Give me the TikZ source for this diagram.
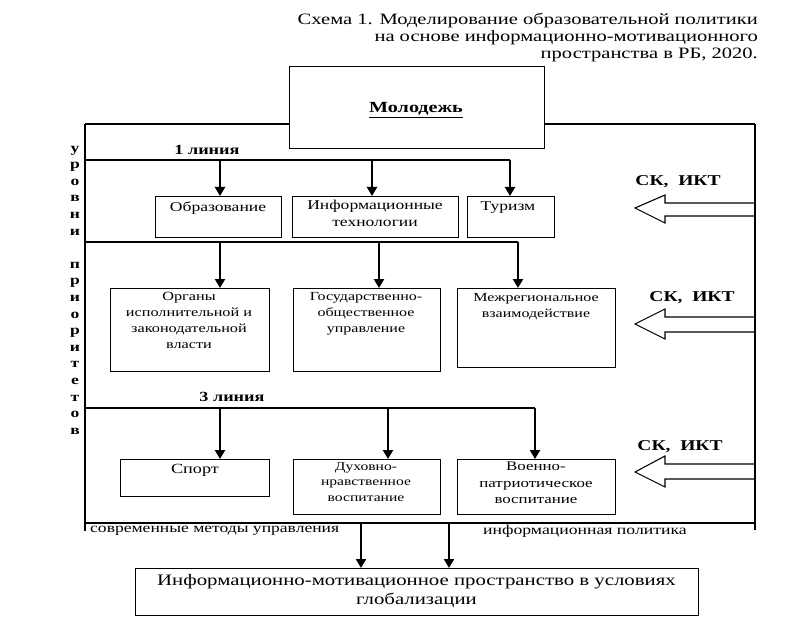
\documentclass[tikz,border=0pt]{standalone}
\usepackage{fontspec}
\setmainfont[FakeStretch=1.3]{Liberation Serif}
\usetikzlibrary{arrows.meta,calc}
\begin{document}
\begin{tikzpicture}[x=1pt,y=-1pt,
  frame/.style={line width=1.3pt},
  box/.style={draw, line width=1.3pt, inner sep=0pt, anchor=north west},
  arr/.style={line width=2.4pt, -{Triangle[length=9pt,width=10pt]}},
  hollow/.style={line width=1.1pt, line join=miter},
  txt/.style={inner sep=0pt, align=center},
  bold/.style={inner sep=0pt, align=center, font=\bfseries\fontsize{15}{16}\selectfont}]
\useasboundingbox (0,0) rectangle (805,644);

% title
\node[txt, anchor=north east, align=right, font=\fontsize{15.8}{16.8}\selectfont] (title) at (758,13)
  {Схема 1. Моделирование образовательной политики\\на основе информационно-мотивационного\\пространства в РБ, 2020.};

% top box
\node[box, minimum width=255, minimum height=82] (mol) at (289,66) {};
\node[txt, font=\bfseries\fontsize{15.5}{17}\selectfont] (molt) at (416,110) {\underline{Молодежь}};

% frame
\coordinate (fTL) at (85,124);
\coordinate (fTR) at (755,124);
\coordinate (fBL) at (85,531);
\coordinate (fBR) at (755,530);
\draw[frame] (fTL) -- (fTL -| mol.west);
\draw[frame] (fTR -| mol.east) -- (fTR);
\draw[frame] (fTL) -- (fBL);
\draw[frame] (fTR) -- (fBR);
\coordinate (bl) at (85,523);
\coordinate (br) at (755,523);
\draw[frame] (bl) -- (br);

% level lines
\coordinate (l1s) at (85,160); \coordinate (l1e) at (510,160);
\coordinate (l2s) at (85,242); \coordinate (l2e) at (518,242);
\coordinate (l3s) at (85,408); \coordinate (l3e) at (535,408);
\draw[frame] (l1s) -- (l1e);
\draw[frame] (l2s) -- (l2e);
\draw[frame] (l3s) -- (l3e);
\node[bold, font=\bfseries\fontsize{14}{16}\selectfont] (lin1) at (207,150) {1 линия};
\node[bold, font=\bfseries\fontsize{14}{16}\selectfont] (lin3) at (232,397) {3 линия};

% side label
\node[txt, font=\bfseries\fontsize{13.5}{16.6}\selectfont] (side) at (75,290)
  {у\\р\\о\\в\\н\\и\\\strut\\п\\р\\и\\о\\р\\и\\т\\е\\т\\о\\в};

% row 1
\node[box, minimum width=126, minimum height=41] (ob) at (155,196) {};
\node[box, minimum width=166, minimum height=41] (it) at (292,196) {};
\node[box, minimum width=87, minimum height=41] (tu) at (467,196) {};
\node[txt, font=\fontsize{13.5}{16.5}\selectfont] (obt) at (218,208) {Образование};
\node[txt, font=\fontsize{13.5}{16.5}\selectfont, anchor=north] (itt) at (375,200) {Информационные\\технологии};
\node[txt, font=\fontsize{13.5}{16.5}\selectfont] (tut) at (508,208) {Туризм};
\coordinate (a11) at (220,160); \coordinate (a12) at (372,160);
\draw[arr] (a11) -- (a11 |- ob.north);
\draw[arr] (a12) -- (a12 |- it.north);
\draw[arr] (l1e) -- (l1e |- tu.north);

% row 2
\node[box, minimum width=159, minimum height=83] (org) at (110,288) {};
\node[box, minimum width=147, minimum height=83] (gos) at (293,288) {};
\node[box, minimum width=158, minimum height=79] (mez) at (457,288) {};
\node[txt, font=\fontsize{12.5}{16}\selectfont, anchor=north] (orgt) at (189,292) {Органы\\исполнительной и\\законодательной\\власти};
\node[txt, font=\fontsize{12.3}{16}\selectfont, anchor=north] (gost) at (366,292) {Государственно-\\общественное\\управление};
\node[txt, font=\fontsize{12.3}{16}\selectfont, anchor=north] (mezt) at (536,293) {Межрегиональное\\взаимодействие};
\coordinate (a21) at (220,242); \coordinate (a22) at (379,242);
\draw[arr] (a21) -- (a21 |- org.north);
\draw[arr] (a22) -- (a22 |- gos.north);
\draw[arr] (l2e) -- (l2e |- mez.north);

% row 3
\node[box, minimum width=149, minimum height=37] (spo) at (120,459) {};
\node[box, minimum width=147, minimum height=55] (duh) at (293,459) {};
\node[box, minimum width=158, minimum height=55] (voe) at (457,459) {};
\node[txt, font=\fontsize{14}{16}\selectfont] (spot) at (195,470) {Спорт};
\node[txt, font=\fontsize{12}{15.5}\selectfont, anchor=north] (duht) at (366,462) {Духовно-\\нравственное\\воспитание};
\node[txt, font=\fontsize{13}{16.5}\selectfont, anchor=north] (voet) at (536,462) {Военно-\\патриотическое\\воспитание};
\coordinate (a31) at (220,408); \coordinate (a32) at (388,408);
\draw[arr] (a31) -- (a31 |- spo.north);
\draw[arr] (a32) -- (a32 |- duh.north);
\draw[arr] (l3e) -- (l3e |- voe.north);

% bottom
\node[txt, font=\fontsize{13.5}{16}\selectfont, anchor=west] (sov) at (90,531) {современные методы управления};
\node[txt, font=\fontsize{13.6}{16}\selectfont, anchor=west] (inf) at (483,531) {информационная политика};
\node[box, minimum width=563, minimum height=47] (ims) at (135,568) {};
\node[txt, font=\fontsize{16}{18.5}\selectfont] (imst) at (416.5,591) {Информационно-мотивационное пространство в условиях\\глобализации};
\coordinate (b1) at (361,523); \coordinate (b2) at (449,523);
\draw[arr] (b1) -- (b1 |- ims.north);
\draw[arr] (b2) -- (b2 |- ims.north);

% SK IKT hollow arrows
\node[bold] (sk1) at (678,182) {СК,\ \ ИКТ};
\node[bold] (sk2) at (692,298) {СК,\ \ ИКТ};
\node[bold] (sk3) at (680,447) {СК,\ \ ИКТ};
\draw[hollow] (755,203) -- (665,203) -- (665,195) -- (635,208) -- (665,223) -- (665,216) -- (755,216);
\draw[hollow] (755,317) -- (665,317) -- (665,309) -- (635,324) -- (665,339) -- (665,332) -- (755,332);
\draw[hollow] (755,464) -- (665,464) -- (665,456) -- (635,472) -- (665,487) -- (665,479) -- (755,479);
\end{tikzpicture}
\end{document}
